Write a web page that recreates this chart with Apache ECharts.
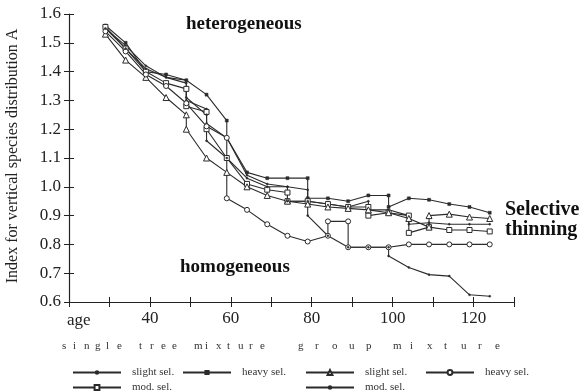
<!DOCTYPE html>
<html>
<head>
<meta charset="utf-8">
<script src="https://cdn.jsdelivr.net/npm/echarts@6/dist/echarts.min.js"></script>
<style>html,body{margin:0;padding:0;background:#fff}#c{width:584px;height:392px}</style>
</head>
<body>
<div id="c"></div>
<script>
// ---- data (age, index A) ----
const xTickLabels = [40, 60, 80, 100, 120];
const yTickLabels = ['0.6','0.7','0.8','0.9','1.0','1.1','1.2','1.3','1.4','1.5','1.6'];
const singleSlight = [[29,1.55],[34,1.49],[39,1.42],[44,1.38],[49,1.36],[49,1.30],[54,1.27],[54,1.22],[59,1.17],[64,1.04],[69,1.01],[74,1.00],[79,0.99],[79,0.95],[84,0.94],[89,0.93],[94,0.95],[94,0.92],[99,0.92],[104,0.90],[104,0.87],[109,0.875],[114,0.87],[119,0.87],[124,0.87]];
const singleHeavy = [[29,1.56],[34,1.50],[39,1.40],[44,1.39],[49,1.37],[54,1.32],[59,1.23],[59,1.17],[64,1.05],[69,1.03],[74,1.03],[79,1.03],[79,0.96],[84,0.96],[89,0.95],[94,0.97],[99,0.97],[99,0.93],[104,0.96],[109,0.955],[114,0.94],[119,0.93],[124,0.91]];
const singleMod = [[29,1.555],[34,1.48],[39,1.40],[44,1.36],[49,1.34],[49,1.28],[54,1.26],[54,1.20],[59,1.10],[64,1.01],[69,0.99],[74,0.98],[74,0.95],[79,0.95],[84,0.94],[89,0.93],[94,0.93],[94,0.90],[99,0.91],[104,0.90],[104,0.84],[109,0.86],[114,0.85],[119,0.85],[124,0.845]];
const groupSlight = [[29,1.53],[34,1.44],[39,1.38],[44,1.31],[49,1.25],[49,1.20],[54,1.10],[59,1.05],[64,1.00],[69,0.97],[74,0.95],[79,0.94],[84,0.93],[89,0.925],[94,0.92],[99,0.91],[104,0.89],[109,0.86],[109,0.90],[114,0.905],[119,0.895],[124,0.89]];
const groupHeavy = [[29,1.54],[34,1.47],[39,1.39],[44,1.35],[49,1.29],[54,1.21],[59,1.17],[59,0.96],[64,0.92],[69,0.87],[74,0.83],[79,0.81],[84,0.83],[84,0.88],[89,0.88],[89,0.79],[94,0.79],[99,0.79],[104,0.80],[109,0.80],[114,0.80],[119,0.80],[124,0.80]];
const groupMod = [[29,1.55],[34,1.48],[39,1.41],[44,1.38],[49,1.37],[49,1.31],[54,1.25],[54,1.16],[59,1.10],[64,1.03],[69,1.00],[74,1.00],[74,0.95],[79,0.95],[79,0.90],[84,0.83],[89,0.79],[94,0.79],[99,0.79],[99,0.76],[104,0.72],[109,0.695],[114,0.69],[119,0.625],[124,0.62]];
const legendLabels = {'single slight':'slight sel.','single heavy':'heavy sel.','single mod':'mod. sel.','group slight':'slight sel.','group heavy':'heavy sel.','group mod':'mod. sel.'};

const SERIF = '"Liberation Serif","DejaVu Serif",serif';
const INK = '#2b2b2b';

function mk(name, data, symbol, size, open) {
  return {
    name, type: 'line', data, symbol, symbolSize: size, showSymbol: true,
    lineStyle: { color: INK, width: 1.1 },
    itemStyle: open ? { color: '#fff', borderColor: INK, borderWidth: 1 } : { color: INK, borderColor: INK, borderWidth: 0.5 },
    emphasis: { disabled: true }, z: 3
  };
}

function spaced(str, x, y, pitch, wordGap) {
  const out = [];
  let cx = x;
  for (const ch of str) {
    if (ch === ' ') { cx += wordGap; continue; }
    out.push({ type: 'text', left: cx, top: y, style: { text: ch, font: '11px ' + SERIF, fill: '#333' } });
    cx += pitch;
  }
  return out;
}

function leg(name, left, top, h) {
  return {
    data: [name], left, top, itemWidth: 48, itemHeight: h, selectedMode: false,
    formatter: n => legendLabels[n],
    textStyle: { fontFamily: SERIF, fontSize: 11, color: '#333', padding: [0, 0, 0, 6] },
    inactiveColor: INK
  };
}

const chart = echarts.init(document.getElementById('c'), null, { renderer: 'canvas' });
const axisLine = { lineStyle: { color: '#222', width: 1.2 }, onZero: false };
chart.setOption({
  animation: false,
  backgroundColor: '#fff',
  grid: { left: 69, top: 14, width: 445, height: 288, containLabel: false },
  xAxis: [
    { type: 'value', min: 20, max: 130, interval: 10, position: 'bottom', axisLine,
      axisTick: { length: 5, lineStyle: { color: '#222' } },
      axisLabel: { formatter: v => xTickLabels.includes(v) ? String(v) : '', fontFamily: SERIF, fontSize: 17, color: '#222', margin: 8 },
      splitLine: { show: false } },
    { type: 'value', min: 20, max: 130, interval: 10, position: 'bottom', axisLine: { show: false, onZero: false },
      axisTick: { inside: true, length: 5, lineStyle: { color: '#222' } }, axisLabel: { show: false }, splitLine: { show: false } }
  ],
  yAxis: [
    { type: 'value', min: 0.6, max: 1.6, interval: 0.1, position: 'left', axisLine,
      axisTick: { length: 5, lineStyle: { color: '#222' } },
      axisLabel: { formatter: v => yTickLabels[Math.round((v - 0.6) * 10)], fontFamily: SERIF, fontSize: 17, color: '#222', margin: 8 },
      splitLine: { show: false } },
    { type: 'value', min: 0.6, max: 1.6, interval: 0.1, position: 'left', axisLine: { show: false, onZero: false },
      axisTick: { inside: true, length: 5, lineStyle: { color: '#222' } }, axisLabel: { show: false }, splitLine: { show: false } }
  ],
  legend: [
    leg('single slight', 67, 362, 3), leg('single heavy', 177, 362, 4), leg('group slight', 300, 362, 6), leg('group heavy', 420, 362, 6),
    leg('single mod', 67, 377, 6), leg('group mod', 300, 377, 3)
  ],
  series: [
    mk('single slight', singleSlight, 'circle', 2, false),
    mk('single heavy', singleHeavy, 'rect', 3, false),
    mk('single mod', singleMod, 'rect', 5, true),
    mk('group slight', groupSlight, 'triangle', 6, true),
    mk('group heavy', groupHeavy, 'circle', 5, true),
    mk('group mod', groupMod, 'circle', 2, false)
  ],
  graphic: [
    { type: 'text', left: 67, top: 312, style: { text: 'age', font: '17px ' + SERIF, fill: '#222' } },
    { type: 'text', x: 13, y: 156, rotation: Math.PI / 2, style: { text: 'Index for vertical species distribution A', font: '16px ' + SERIF, fill: '#222', align: 'center', verticalAlign: 'middle' } },
    { type: 'text', left: 186, top: 15, style: { text: 'heterogeneous', font: 'bold 19px ' + SERIF, fill: '#111' } },
    { type: 'text', left: 180, top: 258, style: { text: 'homogeneous', font: 'bold 19px ' + SERIF, fill: '#111' } },
    { type: 'text', left: 505, top: 200, style: { text: 'Selective', font: 'bold 20px ' + SERIF, fill: '#111' } },
    { type: 'text', left: 505, top: 220, style: { text: 'thinning', font: 'bold 20px ' + SERIF, fill: '#111' } },
    ...spaced('single tree mixture', 62, 341, 11, 11),
    ...spaced('group mixture', 298, 341, 17, 10)
  ]
});
</script>
</body>
</html>
